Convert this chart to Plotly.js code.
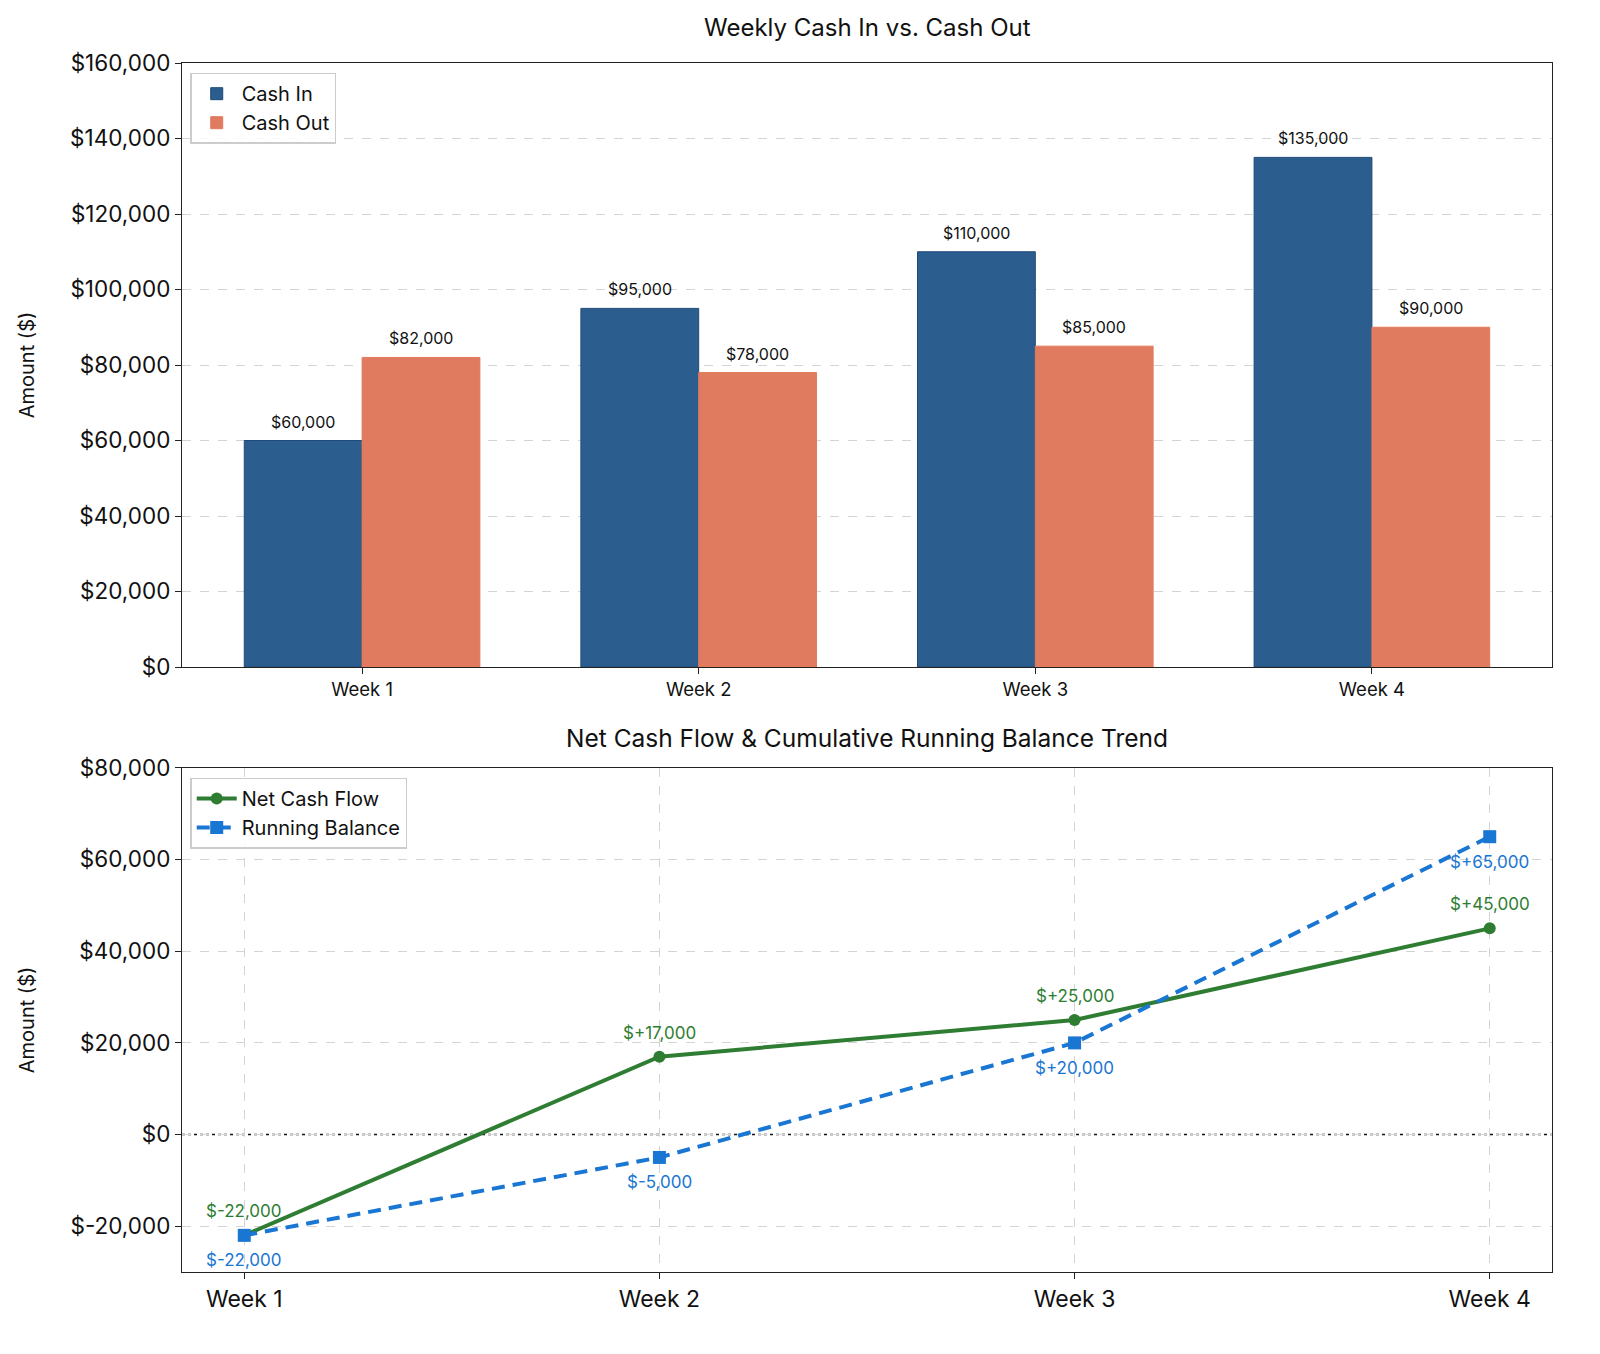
<!DOCTYPE html>
<html>
<head>
<meta charset="utf-8">
<script src="https://cdn.plot.ly/plotly-3.0.1.min.js"></script>
<style>
  html, body { margin: 0; padding: 0; background: #fff; }
  #chart { width: 1600px; height: 1354px; }
</style>
</head>
<body>
<div id="chart"></div>
<script>
// Weekly cash flow chart ------------------------------------------------------
const weeks = ['Week 1', 'Week 2', 'Week 3', 'Week 4'];
const cashIn = [60000, 95000, 110000, 135000];
const cashOut = [82000, 78000, 85000, 90000];
const netFlow = [-22000, 17000, 25000, 45000];
const runningBalance = [-22000, -5000, 20000, 65000];

const FONT = 'Inter, "Open Sans", sans-serif';
const fmtMoney = v => '$' + v.toLocaleString('en-US');
const fmtSigned = v => '$' + (v >= 0 ? '+' : '-') + Math.abs(v).toLocaleString('en-US');
const idx = weeks.map((_, i) => i);
const BAR_W = 0.35;

const palette = {
    cashIn: '#2b5d8f',
    cashOut: '#e07b5f',
    net: '#2e7d32',
    balance: '#1976d2',
    grid: '#d4d4d4',
};

const traces = [
    {
        type: 'bar', name: 'Cash In', x: idx.map(i => i - BAR_W / 2), y: cashIn, width: BAR_W,
        marker: { color: palette.cashIn, line: { color: '#1f4a78', width: 1 } },
        xaxis: 'x', yaxis: 'y', legend: 'legend',
    },
    {
        type: 'bar', name: 'Cash Out', x: idx.map(i => i + BAR_W / 2), y: cashOut, width: BAR_W,
        marker: { color: palette.cashOut, line: { color: palette.cashOut, width: 1 } },
        xaxis: 'x', yaxis: 'y', legend: 'legend',
    },
    {
        type: 'scatter', mode: 'lines+markers', name: 'Net Cash Flow', x: idx, y: netFlow,
        line: { color: palette.net, width: 4 },
        marker: { symbol: 'circle', size: 12, color: palette.net },
        xaxis: 'x2', yaxis: 'y2', legend: 'legend2', cliponaxis: false,
    },
    {
        type: 'scatter', mode: 'lines+markers', name: 'Running Balance', x: idx, y: runningBalance,
        line: { color: palette.balance, width: 4, dash: '13px,8px' },
        marker: { symbol: 'square', size: 13, color: palette.balance },
        xaxis: 'x2', yaxis: 'y2', legend: 'legend2', cliponaxis: false,
    },
];

// ----- value labels -----
const annotations = [];
const barLabel = (x, v) => ({
    x, y: v, xref: 'x', yref: 'y', text: fmtMoney(v), showarrow: false,
    yanchor: 'middle', yshift: 19, font: { family: FONT, size: 16, color: '#111' },
});
cashIn.forEach((v, i) => annotations.push(barLabel(i - BAR_W / 2, v)));
cashOut.forEach((v, i) => annotations.push(barLabel(i + BAR_W / 2, v)));
netFlow.forEach((v, i) => annotations.push({
    x: i, y: v, xref: 'x2', yref: 'y2', text: fmtSigned(v), showarrow: false,
    yanchor: 'middle', yshift: 24, font: { family: FONT, size: 17, color: palette.net },
}));
runningBalance.forEach((v, i) => annotations.push({
    x: i, y: v, xref: 'x2', yref: 'y2', text: fmtSigned(v), showarrow: false,
    yanchor: 'middle', yshift: -25, font: { family: FONT, size: 17, color: palette.balance },
}));
annotations.push(
    { text: 'Weekly Cash In vs. Cash Out', xref: 'paper', yref: 'paper', x: 0.5, y: 1, yanchor: 'middle', yshift: 36,
      showarrow: false, font: { family: FONT, size: 24, color: '#111' } },
    { text: 'Net Cash Flow & Cumulative Running Balance Trend', xref: 'paper', yref: 'paper', x: 0.5, y: 0.4169,
      yanchor: 'middle', yshift: 30, showarrow: false, font: { family: FONT, size: 24.5, color: '#111' } },
);

const axisBase = {
    showline: true, linecolor: '#222', linewidth: 1.3, mirror: true,
    ticks: 'outside', ticklen: 6, tickcolor: '#222',
    zeroline: false, tickfont: { family: FONT, color: '#111' },
};
const moneyTicks = vals => vals.map(v => (v < 0 ? '$-' : '$') + Math.abs(v).toLocaleString('en-US'));
const topTicks = [0, 20000, 40000, 60000, 80000, 100000, 120000, 140000, 160000];
const bottomTicks = [-20000, 0, 20000, 40000, 60000, 80000];

const layout = {
    width: 1600, height: 1354,
    paper_bgcolor: '#fff', plot_bgcolor: '#fff',
    margin: { l: 182, r: 48, t: 63, b: 82 },
    barmode: 'overlay', showlegend: true,
    font: { family: FONT, color: '#111' },
    xaxis: {
        ...axisBase, anchor: 'y', range: [-0.535, 3.535],
        tickvals: idx, ticktext: weeks, tickfont: { family: FONT, size: 18.5, color: '#111' },
        showgrid: false,
    },
    yaxis: {
        ...axisBase, domain: [0.5004, 1], anchor: 'x', range: [0, 160000],
        tickvals: topTicks, ticktext: moneyTicks(topTicks),
        tickfont: { family: FONT, size: 22.5, color: '#111' },
        showgrid: true, gridcolor: palette.grid, griddash: 'dash', gridwidth: 1,
        title: { text: 'Amount ($)', font: { family: FONT, size: 20 }, standoff: 30 },
    },
    xaxis2: {
        ...axisBase, anchor: 'y2', range: [-0.15, 3.15],
        tickvals: idx, ticktext: weeks, tickfont: { family: FONT, size: 23, color: '#111' },
        showgrid: true, gridcolor: palette.grid, griddash: 'dash', gridwidth: 1,
    },
    yaxis2: {
        ...axisBase, domain: [0, 0.4169], anchor: 'x2', range: [-30000, 80000],
        tickvals: bottomTicks, ticktext: moneyTicks(bottomTicks),
        tickfont: { family: FONT, size: 22.5, color: '#111' },
        showgrid: true, gridcolor: palette.grid, griddash: 'dash', gridwidth: 1,
        title: { text: 'Amount ($)', font: { family: FONT, size: 20 }, standoff: 30 },
    },
    legend: {
        x: 0.006, y: 0.992, xanchor: 'left', yanchor: 'top', itemwidth: 40,
        bgcolor: 'rgba(255,255,255,0.85)', bordercolor: '#cccccc', borderwidth: 1.5,
        font: { family: FONT, size: 20, color: '#111' },
    },
    legend2: {
        x: 0.006, y: 0.409, xanchor: 'left', yanchor: 'top', itemwidth: 40,
        bgcolor: 'rgba(255,255,255,0.85)', bordercolor: '#cccccc', borderwidth: 1.5,
        font: { family: FONT, size: 20, color: '#111' },
    },
    // dotted zero reference in the lower panel
    shapes: [{
        type: 'line', xref: 'x2 domain', yref: 'y2', x0: 0, x1: 1, y0: 0, y1: 0,
        line: { color: '#111', width: 1.4, dash: 'dot' }, layer: 'below',
    }],
    annotations,
};

Plotly.newPlot('chart', traces, layout, { displayModeBar: false, responsive: false });
</script>
</body>
</html>
